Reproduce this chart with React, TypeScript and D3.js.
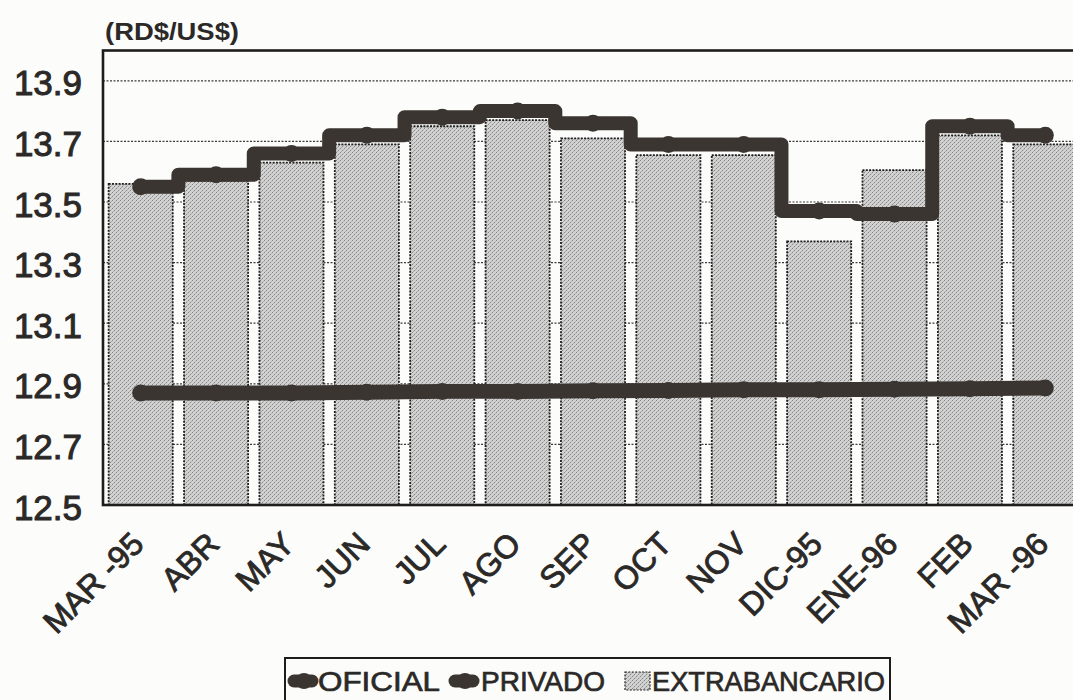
import React from "react";
import * as d3 from "d3";

const categories = ["MAR -95", "ABR", "MAY", "JUN", "JUL", "AGO", "SEP", "OCT", "NOV", "DIC-95", "ENE-96", "FEB", "MAR -96"];
const oficial = [12.87, 12.87, 12.87, 12.872, 12.875, 12.875, 12.877, 12.878, 12.88, 12.88, 12.882, 12.884, 12.886];
const privado = [13.55, 13.59, 13.66, 13.72, 13.78, 13.8, 13.76, 13.69, 13.69, 13.47, 13.46, 13.75, 13.72];
const extrabancario = [13.56, 13.57, 13.63, 13.69, 13.75, 13.77, 13.71, 13.655, 13.655, 13.37, 13.605, 13.72, 13.69];
const yTicks = [12.5, 12.7, 12.9, 13.1, 13.3, 13.5, 13.7, 13.9];
const gridTicks = [12.7, 12.9, 13.1, 13.3, 13.5, 13.7, 13.9];
const legendItems = ["OFICIAL", "PRIVADO", "EXTRABANCARIO"];
const unitLabel = "(RD$/US$)";

const W = 1073;
const H = 700;
const plotLeft = 103;
const plotRight = 1083;
const plotTop = 50.5;
const plotBottom = 505;
const ink = "#2b2927";
const lineInk = "#3b3531";
const font = "'Liberation Sans', Arial, Helvetica, sans-serif";

export default function App() {
  const x = d3
    .scaleBand<string>()
    .domain(categories)
    .range([plotLeft, plotRight])
    .paddingInner(0.15)
    .paddingOuter(0.075);
  const y = d3.scaleLinear().domain([12.5, 14.0]).range([plotBottom, plotTop]);
  const cx = (c: string) => (x(c) as number) + x.bandwidth() / 2;

  const stepLine = d3
    .line<number>()
    .x((_, i) => cx(categories[i]))
    .y((d) => y(d))
    .curve(d3.curveStep);
  const straightLine = d3
    .line<number>()
    .x((_, i) => cx(categories[i]))
    .y((d) => y(d));

  return (
    <svg
      width={W}
      height={H}
      style={{ position: "absolute", left: 0, top: 0, background: "#fcfcfb" }}
      fontFamily={font}
    >
      <defs>
        <pattern id="stipple" patternUnits="userSpaceOnUse" width="4" height="4">
          <rect width="4" height="4" fill="#d2d2d2" />
          <rect x="0" y="0" width="1" height="1" fill="#858585" />
          <rect x="2" y="2" width="1" height="1" fill="#858585" />
          <rect x="1" y="3" width="1" height="1" fill="#a8a8a8" />
          <rect x="3" y="1" width="1" height="1" fill="#b0b0b0" />
        </pattern>
        <clipPath id="plotClip">
          <rect x={plotLeft} y={plotTop} width={plotRight - plotLeft} height={plotBottom - plotTop} />
        </clipPath>
      </defs>

      {/* unit label */}
      <text x={105} y={40} fontSize={24} fontWeight="bold" fill={ink} textLength={134} lengthAdjust="spacingAndGlyphs">
        {unitLabel}
      </text>

      {/* gridlines */}
      <g>
        {gridTicks.map((t) => (
          <line
            key={t}
            x1={plotLeft}
            x2={plotRight}
            y1={y(t)}
            y2={y(t)}
            stroke="#3a3a3a"
            strokeWidth={1.2}
            strokeDasharray="2,1.5"
          />
        ))}
      </g>

      {/* bars */}
      <g clipPath="url(#plotClip)">
        {extrabancario.map((v, i) => (
          <rect
            key={categories[i]}
            x={x(categories[i])}
            y={y(v)}
            width={x.bandwidth()}
            height={plotBottom - y(v)}
            fill="url(#stipple)"
            stroke="#1e1e1e"
            strokeWidth={1.8}
            strokeDasharray="2,1.3"
          />
        ))}
      </g>

      {/* lines */}
      <g clipPath="url(#plotClip)">
        <path d={straightLine(oficial) || ""} fill="none" stroke={lineInk} strokeWidth={15} strokeLinecap="round" strokeLinejoin="round" />
        {oficial.map((v, i) => (
          <circle key={"o" + i} cx={cx(categories[i])} cy={y(v)} r={8.5} fill={lineInk} />
        ))}
        <path d={stepLine(privado) || ""} fill="none" stroke={lineInk} strokeWidth={14} strokeLinecap="round" strokeLinejoin="round" />
        {privado.map((v, i) => (
          <circle key={"p" + i} cx={cx(categories[i])} cy={y(v)} r={8.5} fill={lineInk} />
        ))}
      </g>

      {/* frame */}
      <rect
        x={plotLeft}
        y={plotTop}
        width={plotRight - plotLeft}
        height={plotBottom - plotTop}
        fill="none"
        stroke="#1f1d1c"
        strokeWidth={2.6}
      />

      {/* y labels */}
      <g>
        {yTicks.map((t) => (
          <text
            key={t}
            x={82}
            y={y(t) + 2}
            textAnchor="end"
            dominantBaseline="central"
            fontSize={35}
            fill={ink}
            stroke={ink}
            strokeWidth={1}
          >
            {t.toFixed(1)}
          </text>
        ))}
      </g>

      {/* x labels */}
      <g>
        {categories.map((c) => {
          const ax = cx(c) + 5;
          const ay = 546;
          return (
            <text
              key={c}
              x={ax}
              y={ay}
              textAnchor="end"
              fontSize={32}
              fill={ink}
              stroke={ink}
              strokeWidth={0.9}
              transform={`rotate(-45, ${ax}, ${ay})`}
            >
              {c}
            </text>
          );
        })}
      </g>

      {/* legend */}
      <g>
        <rect x={285} y={658} width={605} height={50} fill="#fcfcfb" stroke="#1f1d1c" strokeWidth={2} />
        <line x1={294} y1={681} x2={312} y2={681} stroke={lineInk} strokeWidth={13} strokeLinecap="round" />
        <circle cx={304} cy={681} r={8} fill={lineInk} />
        <text x={318} y={691} fontSize={28} fill={ink} stroke={ink} strokeWidth={0.7} textLength={122} lengthAdjust="spacingAndGlyphs">
          {legendItems[0]}
        </text>
        <line x1={455} y1={681} x2={473} y2={681} stroke={lineInk} strokeWidth={13} strokeLinecap="round" />
        <circle cx={465} cy={681} r={8} fill={lineInk} />
        <text x={481} y={691} fontSize={28} fill={ink} stroke={ink} strokeWidth={0.7} textLength={124} lengthAdjust="spacingAndGlyphs">
          {legendItems[1]}
        </text>
        <rect x={625} y={672} width={25} height={18} fill="url(#stipple)" stroke="#1e1e1e" strokeWidth={1.2} strokeDasharray="2,1.4" />
        <text x={652} y={691} fontSize={28} fill={ink} stroke={ink} strokeWidth={0.7} textLength={233} lengthAdjust="spacingAndGlyphs">
          {legendItems[2]}
        </text>
      </g>
    </svg>
  );
}
